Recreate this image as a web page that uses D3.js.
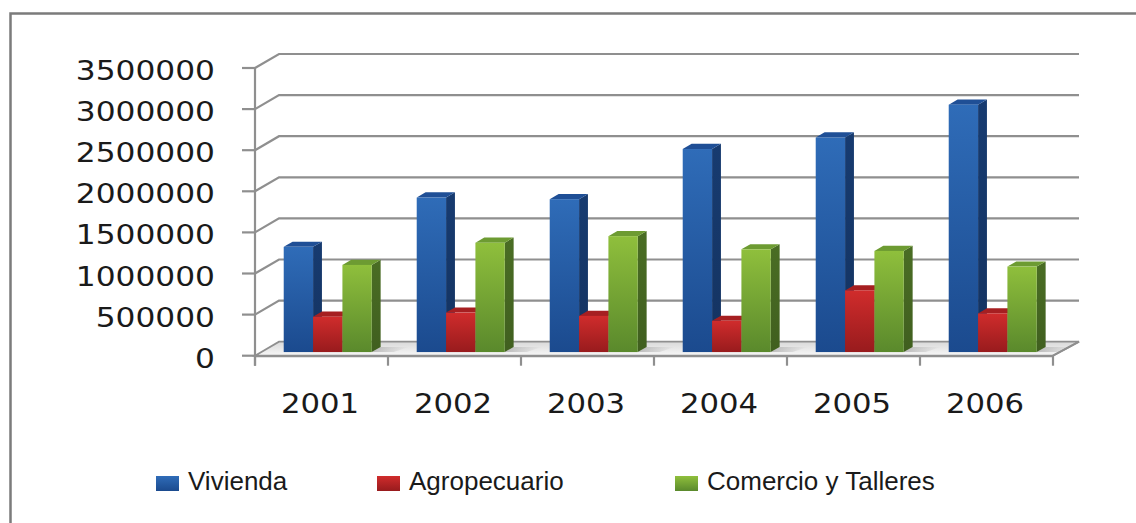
<!DOCTYPE html>
<html>
<head>
<meta charset="utf-8">
<script src="https://cdn.jsdelivr.net/npm/d3@7/dist/d3.min.js"></script>
<style>
  html, body { margin: 0; padding: 0; background: #ffffff; }
  svg { display: block; }
</style>
</head>
<body>
<svg id="chart" width="1136" height="523"></svg>
<script>
// ---- data ----
const years = ["2001", "2002", "2003", "2004", "2005", "2006"];
const seriesNames = ["Vivienda", "Agropecuario", "Comercio y Talleres"];
const vivienda = [1280000, 1880000, 1860000, 2470000, 2610000, 3010000];
const agropecuario = [430000, 480000, 440000, 380000, 750000, 470000];
const comercio = [1060000, 1330000, 1410000, 1250000, 1230000, 1040000];
const yTickValues = [0, 500000, 1000000, 1500000, 2000000, 2500000, 3000000, 3500000];

const seriesValues = [vivienda, agropecuario, comercio];

// ---- layout / style ----
const svg = d3.select("#chart");
const W = 1136, H = 523;
const DX = 24, DY = -14;           // full depth offset of the 3D box
const F0 = 0.26, F1 = 0.63;        // bar depth (fraction of box depth)
const palette = [
  { top: "#2f6cb8", bottom: "#1b4a8e", side: "#173b70", cap: "#1f4f96" },
  { top: "#d02c2c", bottom: "#981b1d", side: "#871819", cap: "#a61f21" },
  { top: "#8fbf3c", bottom: "#5a892c", side: "#4a6d24", cap: "#6d9b32" }
];

const x = d3.scaleBand().domain(years).range([255, 1053])
  .paddingInner(0.338).paddingOuter(0.169);
const xs = d3.scaleBand().domain(d3.range(seriesNames.length)).range([0, x.bandwidth()]);
const y = d3.scaleLinear().domain([0, 3500000]).range([355.7, 68]);

const defs = svg.append("defs");
palette.forEach((p, i) => {
  const g = defs.append("linearGradient").attr("id", "front" + i)
    .attr("x1", 0).attr("y1", 0).attr("x2", 0).attr("y2", 1);
  g.append("stop").attr("offset", "0%").attr("stop-color", p.top);
  g.append("stop").attr("offset", "100%").attr("stop-color", p.bottom);
  const s = defs.append("linearGradient").attr("id", "side" + i)
    .attr("x1", 0).attr("y1", 0).attr("x2", 0).attr("y2", 1);
  s.append("stop").attr("offset", "0%").attr("stop-color", p.side);
  s.append("stop").attr("offset", "100%").attr("stop-color", d3.color(p.side).darker(0.4));
});
const fg = defs.append("linearGradient").attr("id", "floorGrad")
  .attr("x1", 0).attr("y1", 0).attr("x2", 0).attr("y2", 1);
fg.append("stop").attr("offset", "0%").attr("stop-color", "#d9d9d9");
fg.append("stop").attr("offset", "100%").attr("stop-color", "#f7f7f7");
const sh = defs.append("linearGradient").attr("id", "shadowGrad")
  .attr("x1", 0).attr("y1", 0).attr("x2", 1).attr("y2", 0);
sh.append("stop").attr("offset", "0%").attr("stop-color", "#9a9a9a").attr("stop-opacity", 0.6);
sh.append("stop").attr("offset", "100%").attr("stop-color", "#9a9a9a").attr("stop-opacity", 0);

// background + border
svg.append("rect").attr("width", W).attr("height", H).attr("fill", "#ffffff");
svg.append("path")
  .attr("d", `M10.5,${H + 5} L10.5,13.5 L${W + 5},13.5`)
  .attr("fill", "none").attr("stroke", "#7b7b7b").attr("stroke-width", 2.5);

const x0 = x.range()[0], x1 = x.range()[1];
const gridColor = "#8f8f8f";

// gridlines: side-wall diagonal + back wall horizontal
const grid = svg.append("g");
yTickValues.forEach(v => {
  if (v === 0) return;
  const yy = y(v);
  grid.append("path")
    .attr("d", `M${x0},${yy} L${x0 + DX},${yy + DY} L${x1 + DX + 2},${yy + DY}`)
    .attr("fill", "none").attr("stroke", gridColor).attr("stroke-width", 2.2);
});

// floor
const y0 = y(0);
svg.append("path")
  .attr("d", `M${x0},${y0} L${x0 + DX},${y0 + DY} L${x1 + DX + 2},${y0 + DY} L${x1},${y0} Z`)
  .attr("fill", "url(#floorGrad)").attr("stroke", gridColor).attr("stroke-width", 1.8);
svg.append("line").attr("x1", x0).attr("x2", x1).attr("y1", y0 + 0.5).attr("y2", y0 + 0.5)
  .attr("stroke", gridColor).attr("stroke-width", 2);

// bar shadows on floor
const barsG = svg.append("g");
years.forEach((yr, ci) => {
  const gx = x(yr) + DX * F0;
  const by = y0 + DY * F0;
  barsG.append("path")
    .attr("d", `M${gx + x.bandwidth()},${by} L${gx + x.bandwidth() + DX * (F1 - F0)},${by + DY * (F1 - F0)} L${gx + x.bandwidth() + DX * (F1 - F0) + 28},${by + DY * (F1 - F0)} L${gx + x.bandwidth() + 22},${by} Z`)
    .attr("fill", "url(#shadowGrad)");
});

// 3D bars
years.forEach((yr, ci) => {
  seriesValues.forEach((vals, si) => {
    const v = vals[ci];
    const bw = xs.bandwidth();
    const fx = x(yr) + xs(si) + DX * F0;
    const fyBottom = y(0) + DY * F0;
    const fyTop = y(v) + DY * F0;
    const ddx = DX * (F1 - F0), ddy = DY * (F1 - F0);
    const p = palette[si];
    // side face
    barsG.append("path")
      .attr("d", `M${fx + bw},${fyTop} L${fx + bw + ddx},${fyTop + ddy} L${fx + bw + ddx},${fyBottom + ddy} L${fx + bw},${fyBottom} Z`)
      .attr("fill", "url(#side" + si + ")");
    // top face
    barsG.append("path")
      .attr("d", `M${fx},${fyTop} L${fx + ddx},${fyTop + ddy} L${fx + bw + ddx},${fyTop + ddy} L${fx + bw},${fyTop} Z`)
      .attr("fill", p.cap);
    // front face
    barsG.append("rect")
      .attr("x", fx).attr("y", fyTop)
      .attr("width", bw).attr("height", fyBottom - fyTop)
      .attr("fill", "url(#front" + si + ")");
  });
});

// y axis
const axisG = svg.append("g");
axisG.append("line").attr("x1", x0).attr("x2", x0).attr("y1", y(3500000) - 1).attr("y2", y0 + 10)
  .attr("stroke", gridColor).attr("stroke-width", 2.2);
yTickValues.forEach(v => {
  axisG.append("line").attr("x1", 242).attr("x2", x0).attr("y1", y(v)).attr("y2", y(v))
    .attr("stroke", gridColor).attr("stroke-width", 2.2);
  axisG.append("text")
    .attr("transform", `translate(215,${y(v) + 12}) scale(1.18,1)`)
    .attr("text-anchor", "end")
    .attr("font-family", "DejaVu Sans")
    .attr("font-size", 26.5)
    .attr("fill", "#1a1a1a")
    .text(String(v));
});

// x axis ticks and labels
const boundaries = years.map(yr => x(yr) - x.step() * x.paddingInner() / 2 - (years.indexOf(yr) === 0 ? 0 : 0));
const tickXs = years.map((yr, i) => x0 + i * (x1 - x0) / years.length).concat([x1]);
tickXs.forEach(tx => {
  axisG.append("line").attr("x1", tx).attr("x2", tx).attr("y1", y0).attr("y2", y0 + 10)
    .attr("stroke", gridColor).attr("stroke-width", 2.2);
});
years.forEach(yr => {
  axisG.append("text")
    .attr("transform", `translate(${x(yr) + x.bandwidth() / 2 - 1.5},413.3) scale(1.16,1)`)
    .attr("text-anchor", "middle")
    .attr("font-family", "DejaVu Sans")
    .attr("font-size", 26.5)
    .attr("fill", "#1a1a1a")
    .text(yr);
});
// right end of floor front edge tick connecting
axisG.append("line").attr("x1", x1).attr("x2", x1 + DX + 2).attr("y1", y0).attr("y2", y0 + DY)
  .attr("stroke", gridColor).attr("stroke-width", 2);

// legend
const legendX = [156, 377, 675];
const legend = svg.append("g");
seriesNames.forEach((name, i) => {
  legend.append("rect").attr("x", legendX[i]).attr("y", 476)
    .attr("width", 23).attr("height", 15)
    .attr("fill", "url(#front" + i + ")");
  legend.append("text")
    .attr("x", legendX[i] + 32).attr("y", 490)
    .attr("font-family", "Liberation Sans, Arial, sans-serif")
    .attr("font-size", 26)
    .attr("fill", "#1a1a1a")
    .text(name);
});
</script>
</body>
</html>
